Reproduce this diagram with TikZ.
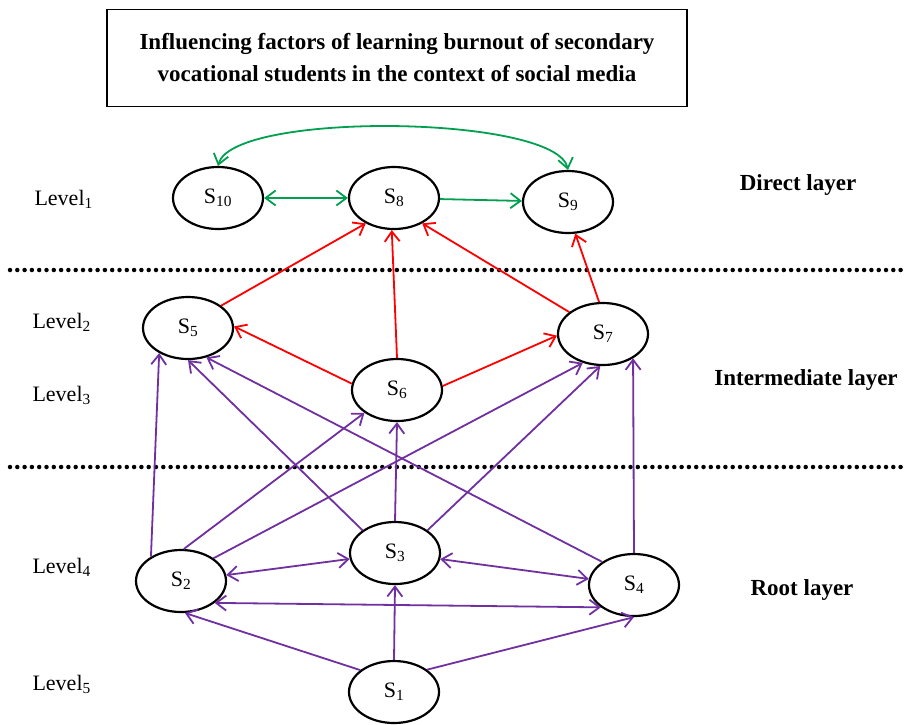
\documentclass[tikz,border=0pt]{standalone}
\usepackage{fontspec}
\setmainfont{Liberation Serif}
\usetikzlibrary{shapes.geometric,arrows.meta}
\definecolor{pur}{HTML}{7030A0}
\definecolor{grn}{HTML}{00A050}
\definecolor{rd}{HTML}{FF0000}
\begin{document}
\begin{tikzpicture}[x=1pt,y=-1pt,
  snode/.style={ellipse,draw,line width=2.2pt,minimum width=90pt,minimum height=62pt,inner sep=0pt,font=\fontsize{22}{24}\selectfont},
  tip/.tip={Straight Barb[length=10pt,width=15pt,line width=1.8pt]},
  arr/.style={line width=1.8pt,-tip},
  barr/.style={line width=1.8pt,tip-tip},
  lev/.style={font=\fontsize{22}{24}\selectfont,anchor=west},
  lay/.style={font=\bfseries\fontsize{23}{25}\selectfont},
  dotline/.style={line width=4.5pt,line cap=round,dash pattern=on 0pt off 7.3pt}]
\useasboundingbox (0,0) rectangle (907,724);
\fill[white] (0,0) rectangle (907,724);
% title
\node[draw,line width=1.4pt,minimum width=580pt,minimum height=97pt,align=center,
  font=\bfseries\fontsize{23}{32}\selectfont] (title) at (397,58)
  {Influencing factors of learning burnout of secondary\\vocational students in the context of social media};
% dotted separators
\draw[dotline] (10,270) -- (905,270);
\draw[dotline] (10,467) -- (905,467);
% nodes
\node[snode] (S10) at (218,198) {S\textsubscript{10}};
\node[snode] (S8) at (394,198) {S\textsubscript{8}};
\node[snode] (S9) at (568,202) {S\textsubscript{9}};
\node[snode] (S5) at (188,328) {S\textsubscript{5}};
\node[snode] (S6) at (397,390) {S\textsubscript{6}};
\node[snode] (S7) at (603,334) {S\textsubscript{7}};
\node[snode] (S3) at (395,553) {S\textsubscript{3}};
\node[snode] (S2) at (181,581) {S\textsubscript{2}};
\node[snode] (S4) at (634,585) {S\textsubscript{4}};
\node[snode] (S1) at (394,692) {S\textsubscript{1}};
% level labels
\node[lev] (L1) at (31,199) {Level\textsubscript{1}};
\node[lev] (L2) at (29,322) {Level\textsubscript{2}};
\node[lev] (L3) at (29,395) {Level\textsubscript{3}};
\node[lev] (L4) at (29,567) {Level\textsubscript{4}};
\node[lev] (L5) at (29,684) {Level\textsubscript{5}};
% layer labels
\node[lay] (D) at (798,185) {Direct layer};
\node[lay] (I) at (806,380) {Intermediate layer};
\node[lay] (R) at (802,590) {Root layer};
% green edges
\draw[barr,grn] (S10) -- (S8);
\draw[arr,grn] (S8) -- (S9);
\draw[barr,grn] (S10.90) .. controls +(15,-55) and +(-12,-55) .. (S9.90);
% red edges
\draw[arr,rd] (S5.34) -- (S8.222);
\draw[arr,rd] (S6.90) -- (S8.266);
\draw[arr,rd] (S7.147) -- (S8.318);
\draw[arr,rd] (S7.97) -- (S9.283);
\draw[arr,rd] (S6.172) -- (S5.2);
\draw[arr,rd] (S6.5) -- (S7.182);
% purple edges
\draw[arr,pur] (S2.141) -- (S5.221);
\draw[arr,pur] (S2.85) -- (S6.215);
\draw[arr,pur] (S2.35) -- (S7.235);
\draw[arr,pur] (S3.145) -- (S5.270);
\draw[arr,pur] (S3.90) -- (S6.270);
\draw[arr,pur] (S3.35) -- (S7.265);
\draw[arr,pur] (S4.144) -- (S5.302);
\draw[arr,pur] (S4.90) -- (S7.321);
\draw[barr,pur] (S2) -- (S3);
\draw[barr,pur] (S3) -- (S4);
\draw[barr,pur] (S2.327) -- (S4.214);
\draw[arr,pur] (S1.147) -- (S2.277);
\draw[arr,pur] (S1.90) -- (S3.270);
\draw[arr,pur] (S1.34) -- (S4.270);
\end{tikzpicture}
\end{document}
